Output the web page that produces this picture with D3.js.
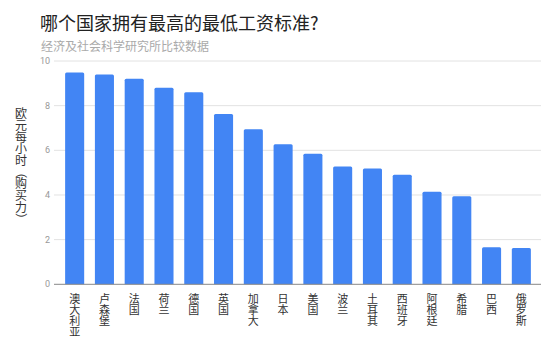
<!DOCTYPE html>
<html><head><meta charset="utf-8">
<script src="https://cdn.jsdelivr.net/npm/d3@7"></script>
<style>body{margin:0;background:#fff}</style>
</head><body>
<svg id="c" width="554" height="340"></svg>
<script>
const categories = ["澳大利亚","卢森堡","法国","荷兰","德国","英国","加拿大","日本","美国","波兰","土耳其","西班牙","阿根廷","希腊","巴西","俄罗斯"];
const values = [9.49,9.39,9.21,8.80,8.60,7.63,6.94,6.27,5.85,5.28,5.19,4.91,4.15,3.94,1.66,1.63];
const yTicks = [0,2,4,6,8,10];
const title = "哪个国家拥有最高的最低工资标准?";
const subtitle = "经济及社会科学研究所比较数据";
const yLabel = "欧元每小时（购买力）";

const font = "'Noto Sans CJK SC', 'Noto Sans', sans-serif";
const svg = d3.select("#c");
const x = d3.scaleBand().domain(categories).range([55, 541]).paddingInner(0.36).paddingOuter(0.34);
const y = d3.scaleLinear().domain([0, 10]).range([284.3, 61]);

svg.append("text").attr("x", 40).attr("y", 30).attr("font-family", font)
  .attr("font-size", 18).attr("fill", "#222").text(title);
svg.append("text").attr("x", 41).attr("y", 51).attr("font-family", font)
  .attr("font-size", 12).attr("fill", "#aaa").text(subtitle);

// grid
svg.append("g").selectAll("line").data(yTicks.filter(d => d > 0)).join("line")
  .attr("x1", 54).attr("x2", 541).attr("y1", d => y(d)).attr("y2", d => y(d))
  .attr("stroke", "#e2e2e2").attr("stroke-width", 1);
svg.append("g").selectAll("text").data(yTicks).join("text")
  .attr("x", 50).attr("y", d => y(d) + 3).attr("text-anchor", "end")
  .attr("font-family", "Roboto, sans-serif").attr("font-size", 9).attr("fill", "#999").text(d => d);

// bars
svg.append("g").selectAll("path").data(values).join("path")
  .attr("fill", "#4285f4")
  .attr("d", (d, i) => {
    const x0 = x(categories[i]), w = x.bandwidth(), y0 = y(d), yb = y(0), r = 1.5;
    return `M${x0},${yb}V${y0 + r}Q${x0},${y0} ${x0 + r},${y0}H${x0 + w - r}Q${x0 + w},${y0} ${x0 + w},${y0 + r}V${yb}Z`;
  });

// axis line
svg.append("line").attr("x1", 54).attr("x2", 541).attr("y1", y(0)).attr("y2", y(0))
  .attr("stroke", "#888").attr("stroke-width", 1);

// x labels, stacked vertically
const xl = svg.append("g");
categories.forEach(c => {
  const cx = x(c) + x.bandwidth() / 2;
  const t = xl.append("text").attr("font-family", font).attr("font-size", 11)
    .attr("fill", "#333").attr("text-anchor", "middle");
  Array.from(c).forEach((ch, j) => {
    t.append("tspan").attr("x", cx).attr("y", 302.5 + j * 11.3).text(ch);
  });
});

// y label stacked
const yt = svg.append("text").attr("font-family", font).attr("font-size", 12)
  .attr("fill", "#333").attr("text-anchor", "middle");
Array.from(yLabel).forEach((ch, j) => {
  const cy = 113.8 + j * 11.7;
  if (ch === "（" || ch === "）") {
    svg.append("text").attr("font-family", font).attr("font-size", 12).attr("fill", "#333")
      .attr("text-anchor", "middle").attr("dominant-baseline", "central")
      .attr("transform", `translate(21,${cy}) rotate(90)`).text(ch);
  } else {
    yt.append("tspan").attr("x", 21).attr("y", cy + 4.4).text(ch);
  }
});
</script>
</body></html>
